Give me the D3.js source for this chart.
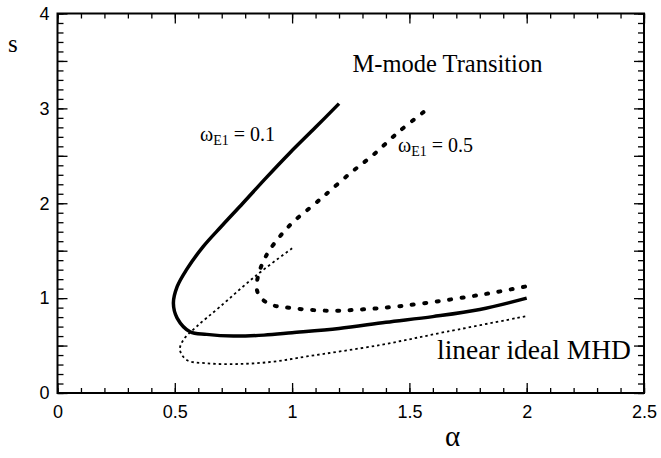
<!DOCTYPE html>
<html>
<head>
<meta charset="utf-8">
<script src="https://cdn.jsdelivr.net/npm/d3@7"></script>
<style>
  body { margin: 0; background: #fff; }
  .tick text { font-family: "Liberation Sans", Arial, sans-serif; font-size: 18px; fill: #000; }
  .serif { font-family: "Liberation Serif", "Times New Roman", serif; fill: #000; }
</style>
</head>
<body>
<div id="chart"></div>
<script>
// omega_E1 = 0.1 (solid)
const alphaE01 = [1.2, 1.1, 0.99, 0.89, 0.79, 0.70, 0.62, 0.55, 0.51, 0.494, 0.51, 0.565, 0.636, 0.75, 0.88, 1.0, 1.2, 1.4, 1.6, 1.8, 2.0];
const sE01     = [3.05, 2.80, 2.53, 2.27, 2.0, 1.76, 1.54, 1.30, 1.12, 0.945, 0.79, 0.646, 0.618, 0.60, 0.61, 0.635, 0.68, 0.745, 0.805, 0.88, 1.0];

// omega_E1 = 0.5 (thick dots)
const alphaE05 = [1.56, 1.453, 1.346, 1.247, 1.147, 1.095, 0.991, 0.906, 0.877, 0.856, 0.849, 0.863, 0.906, 1.005, 1.162, 1.304, 1.46, 1.659, 1.84, 2.0];
const sE05     = [2.96, 2.75, 2.51, 2.315, 2.10, 1.99, 1.77, 1.514, 1.384, 1.243, 1.103, 1.015, 0.935, 0.893, 0.867, 0.882, 0.915, 0.98, 1.05, 1.125];

// linear ideal MHD (thin dots)
const alphaMHD = [1.0, 0.849, 0.693, 0.593, 0.536, 0.522, 0.551, 0.636, 0.778, 0.92, 1.062, 1.375, 1.659, 2.0];
const sMHD     = [1.525, 1.243, 0.91, 0.70, 0.558, 0.453, 0.348, 0.313, 0.306, 0.33, 0.385, 0.506, 0.646, 0.81];

const xMajor = [0, 0.5, 1, 1.5, 2, 2.5];
const yMajor = [0, 1, 2, 3, 4];

const width = 661, height = 458;
const margin = { top: 13.5, right: 17, bottom: 65, left: 57.5 };

const svg = d3.select("#chart").append("svg")
    .attr("width", width)
    .attr("height", height);

const x = d3.scaleLinear().domain([0, 2.5]).range([margin.left, width - margin.right]);
const y = d3.scaleLinear().domain([0, 4]).range([height - margin.bottom, margin.top]);

const minorX = d3.range(0, 2.501, 0.1);
const midX = d3.range(0, 2.501, 0.5);
const minorY = d3.range(0, 4.001, 0.1);
const midY = d3.range(0, 4.001, 0.5);

function styleAxis(g) {
    g.select(".domain").remove();
    g.selectAll("line").attr("stroke", "#000").attr("stroke-width", 1.3);
}

// minor ticks on all four sides
svg.append("g").attr("transform", `translate(0,${y(0)})`)
    .call(d3.axisBottom(x).tickValues(minorX).tickSize(-5).tickFormat(""))
    .call(styleAxis);
svg.append("g").attr("transform", `translate(0,${y(4)})`)
    .call(d3.axisTop(x).tickValues(minorX).tickSize(-5).tickFormat(""))
    .call(styleAxis);
svg.append("g").attr("transform", `translate(${x(0)},0)`)
    .call(d3.axisLeft(y).tickValues(minorY).tickSize(-6).tickFormat(""))
    .call(styleAxis);
svg.append("g").attr("transform", `translate(${x(2.5)},0)`)
    .call(d3.axisRight(y).tickValues(minorY).tickSize(-6).tickFormat(""))
    .call(styleAxis);

// longer ticks every 0.5
svg.append("g").attr("transform", `translate(0,${y(0)})`)
    .call(d3.axisBottom(x).tickValues(midX).tickSize(-10).tickFormat(""))
    .call(styleAxis);
svg.append("g").attr("transform", `translate(0,${y(4)})`)
    .call(d3.axisTop(x).tickValues(midX).tickSize(-10).tickFormat(""))
    .call(styleAxis);
svg.append("g").attr("transform", `translate(${x(0)},0)`)
    .call(d3.axisLeft(y).tickValues(midY).tickSize(-10).tickFormat(""))
    .call(styleAxis);
svg.append("g").attr("transform", `translate(${x(2.5)},0)`)
    .call(d3.axisRight(y).tickValues(midY).tickSize(-10).tickFormat(""))
    .call(styleAxis);

// labels
svg.append("g").attr("transform", `translate(0,${y(0)})`)
    .call(d3.axisBottom(x).tickValues(xMajor).tickSize(0).tickPadding(12).tickFormat(d3.format("")))
    .call(g => g.select(".domain").remove());
svg.append("g").attr("transform", `translate(${x(0)},0)`)
    .call(d3.axisLeft(y).tickValues(yMajor).tickSize(0).tickPadding(8).tickFormat(d3.format("")))
    .call(g => g.select(".domain").remove());

// frame
svg.append("rect")
    .attr("x", x(0)).attr("y", y(4))
    .attr("width", x(2.5) - x(0)).attr("height", y(0) - y(4))
    .attr("fill", "none").attr("stroke", "#000").attr("stroke-width", 2);

const line = d3.line()
    .x(d => x(d[0]))
    .y(d => y(d[1]))
    .curve(d3.curveCatmullRom.alpha(0.5));

svg.append("path")
    .datum(d3.zip(alphaMHD, sMHD))
    .attr("d", line)
    .attr("fill", "none").attr("stroke", "#000")
    .attr("stroke-width", 1.8)
    .attr("stroke-dasharray", "2.5,3");

svg.append("path")
    .datum(d3.zip(alphaE05, sE05))
    .attr("d", line)
    .attr("fill", "none").attr("stroke", "#000")
    .attr("stroke-width", 4)
    .attr("stroke-linecap", "round")
    .attr("stroke-dasharray", "2,10.5");

svg.append("path")
    .datum(d3.zip(alphaE01, sE01))
    .attr("d", line)
    .attr("fill", "none").attr("stroke", "#000")
    .attr("stroke-width", 3.5)
    .attr("stroke-linejoin", "round");

// texts
svg.append("text").attr("class", "serif")
    .attr("x", 8).attr("y", 52).attr("font-size", 25).text("s");

svg.append("text").attr("class", "serif")
    .attr("x", 445).attr("y", 446).attr("font-size", 29).text("α");

svg.append("text").attr("class", "serif")
    .attr("x", 352.5).attr("y", 72).attr("font-size", 24.5).text("M-mode Transition");

svg.append("text").attr("class", "serif")
    .attr("x", 437).attr("y", 359).attr("font-size", 27.5).text("linear ideal MHD");

function omegaLabel(px, py, val) {
    const t = svg.append("text").attr("class", "serif")
        .attr("x", px).attr("y", py).attr("font-size", 20);
    t.append("tspan").text("ω");
    t.append("tspan").attr("font-size", 14).attr("dy", 4).text("E1");
    t.append("tspan").attr("dy", -4).text(" = " + val);
}
omegaLabel(200, 141, "0.1");
omegaLabel(398, 152, "0.5");
</script>
</body>
</html>
